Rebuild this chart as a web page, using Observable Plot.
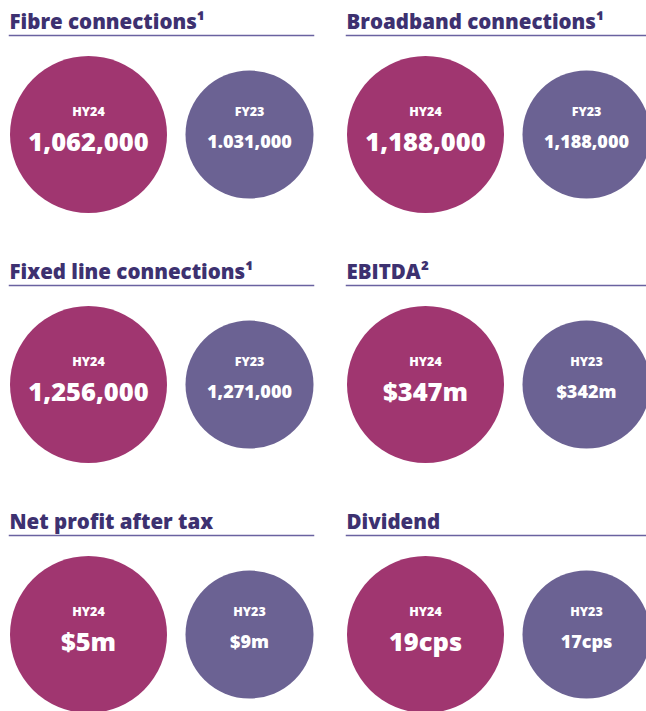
<!DOCTYPE html>
<html><head><meta charset="utf-8">
<script src="https://cdn.jsdelivr.net/npm/d3@7"></script>
<script src="https://cdn.jsdelivr.net/npm/@observablehq/plot@0.6"></script>
<style>
html,body{margin:0;padding:0;background:#fff;overflow:hidden}
#chart{width:646px;height:711px;overflow:hidden}
#chart svg{overflow:hidden}
</style></head><body><div id="chart"></div>
<script>
// Panel titles (reading order: left-to-right, top-to-bottom)
const titles = ["Fibre connections¹", "Broadband connections¹", "Fixed line connections¹", "EBITDA²", "Net profit after tax", "Dividend"];
// Current period (large circle)
const currentLabels = ["HY24", "HY24", "HY24", "HY24", "HY24", "HY24"];
const currentValues = ["1,062,000", "1,188,000", "1,256,000", "$347m", "$5m", "19cps"];
// Comparison period (small circle)
const priorLabels = ["FY23", "FY23", "FY23", "HY23", "HY23", "HY23"];
const priorValues = ["1.031,000", "1,188,000", "1,271,000", "$342m", "$9m", "17cps"];
const roles = ["current", "prior"];

const MAGENTA = "#A03670", PURPLE = "#6B6293", INK = "#3D3170", LINE = "#6A62A0";
const FONT = "'Open Sans', Lato, sans-serif";

const panels = titles.map((title, i) => ({title, col: i % 2, row: Math.floor(i / 2)}));
const circles = panels.flatMap((p, i) => [
  {...p, role: roles[0], label: currentLabels[i], value: currentValues[i]},
  {...p, role: roles[1], label: priorLabels[i], value: priorValues[i]}
]);
const cur = circles.filter(d => d.role === "current");
const pri = circles.filter(d => d.role === "prior");

const chart = Plot.plot({
  width: 646, height: 711,
  marginTop: 0, marginBottom: 0, marginLeft: 8, marginRight: -5,
  style: {fontFamily: FONT, background: "#fff"},
  fx: {domain: [0, 1], paddingInner: 0.0976, paddingOuter: 0, axis: null},
  fy: {domain: [0, 1, 2], paddingInner: 0.1673, paddingOuter: 0, axis: null},
  x: {type: "point", domain: roles, padding: 0.4385, align: 0.551, axis: null},
  marks: [
    Plot.frame({anchor: "top", insetTop: 34, stroke: LINE, strokeWidth: 1.5}),
    Plot.text(panels, {fx: "col", fy: "row", text: "title", frameAnchor: "top-left", textAnchor: "start", lineAnchor: "bottom", dy: 27, fontSize: 20.5, fontWeight: 800, fill: INK}),
    Plot.dot(cur, {fx: "col", fy: "row", x: "role", frameAnchor: "top", dy: 133, r: 78.5, fill: MAGENTA, stroke: null}),
    Plot.dot(pri, {fx: "col", fy: "row", x: "role", frameAnchor: "top", dy: 133, r: 64, fill: PURPLE, stroke: null}),
    Plot.text(circles, {fx: "col", fy: "row", x: "role", text: "label", frameAnchor: "top", dy: 110, lineAnchor: "middle", fontSize: 12.5, fontWeight: 800, fill: "white", style: {letterSpacing: "0.4px"}}),
    Plot.text(circles, {fx: "col", fy: "row", x: "role", text: "value", frameAnchor: "top", dy: 141, lineAnchor: "middle",
      fontSize: d => d.role === "current" ? 25.5 : 18, fontWeight: 800, fill: "white"})
  ]
});
document.getElementById("chart").append(chart);
</script></body></html>
